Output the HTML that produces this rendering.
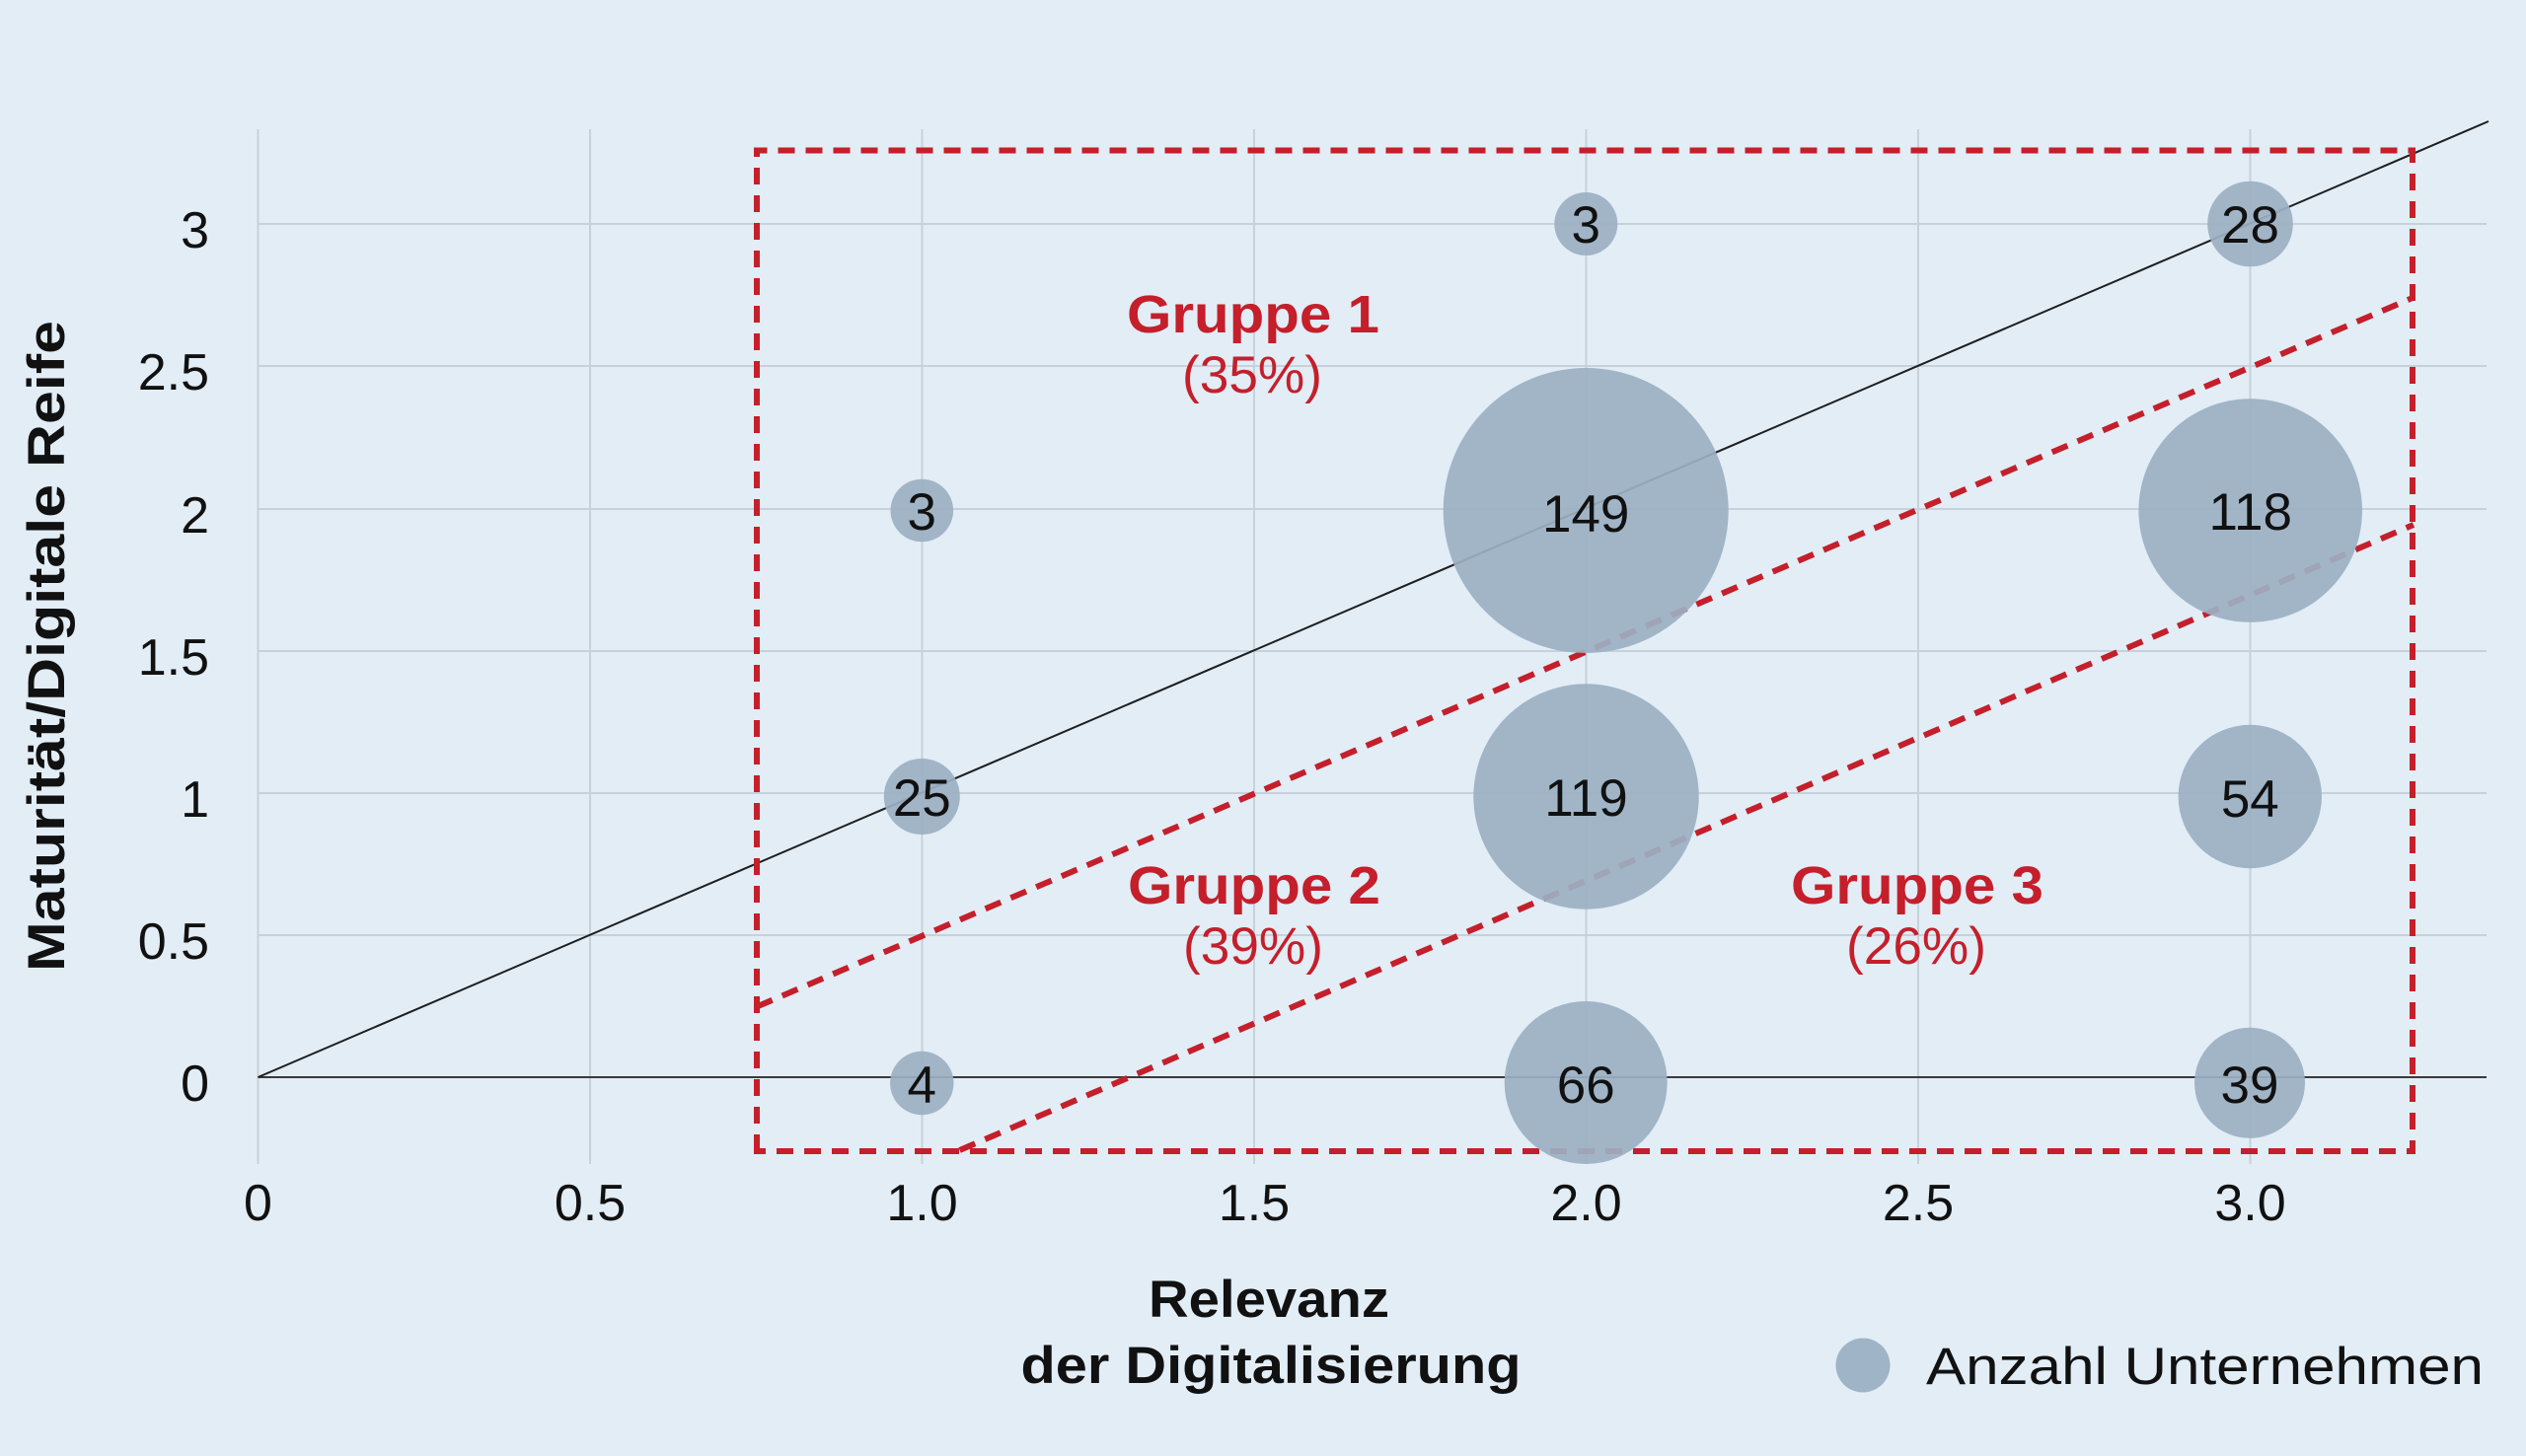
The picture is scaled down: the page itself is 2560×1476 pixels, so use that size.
<!DOCTYPE html>
<html>
<head>
<meta charset="utf-8">
<style>
  html, body { margin:0; padding:0; background:#e2edf6; }
  svg { display:block; }
  text { font-family: "Liberation Sans", "DejaVu Sans", sans-serif; }
</style>
</head>
<body>
<svg width="2560" height="1476" viewBox="0 0 2560 1476" xmlns="http://www.w3.org/2000/svg">
  <rect x="0" y="0" width="2560" height="1476" fill="#e2edf6"/>

  <!-- vertical gridlines -->
  <g stroke="#c6d1db" stroke-width="2">
    <line x1="261.5" y1="131" x2="261.5" y2="1180"/>
    <line x1="598" y1="131" x2="598" y2="1180"/>
    <line x1="934.5" y1="131" x2="934.5" y2="1180"/>
    <line x1="1271" y1="131" x2="1271" y2="1180"/>
    <line x1="1607.5" y1="131" x2="1607.5" y2="1180"/>
    <line x1="1944" y1="131" x2="1944" y2="1180"/>
    <line x1="2280.5" y1="131" x2="2280.5" y2="1180"/>
  </g>
  <!-- horizontal gridlines -->
  <g stroke="#c6d1db" stroke-width="2">
    <line x1="261.5" y1="227" x2="2520" y2="227"/>
    <line x1="261.5" y1="371" x2="2520" y2="371"/>
    <line x1="261.5" y1="516" x2="2520" y2="516"/>
    <line x1="261.5" y1="660" x2="2520" y2="660"/>
    <line x1="261.5" y1="804" x2="2520" y2="804"/>
    <line x1="261.5" y1="948" x2="2520" y2="948"/>
  </g>
  <!-- zero line -->
  <line x1="261.5" y1="1092" x2="2520" y2="1092" stroke="#3a3a3a" stroke-width="2"/>
  <!-- diagonal y=x -->
  <line x1="261.5" y1="1092" x2="2522" y2="123" stroke="#1e1e1e" stroke-width="2"/>

  <!-- red dashed shapes -->
  <g stroke="#c41f2b" stroke-width="6" fill="none" stroke-dasharray="17 11">
    <path d="M767 1167 L767 152.5 L2445 152.5 L2445 1167 Z"/>
    <line x1="767" y1="1020.5" x2="2445" y2="302"/>
    <line x1="972.6" y1="1166" x2="2446" y2="532"/>
  </g>

  <!-- bubbles -->
  <g fill="#9bb0c2" fill-opacity="0.92">
    <circle cx="1607.3" cy="227" r="32"/>
    <circle cx="2280.5" cy="227" r="43.3"/>
    <circle cx="934.3" cy="517.5" r="31.8"/>
    <circle cx="1607.2" cy="517.5" r="144.5"/>
    <circle cx="2280.7" cy="517.5" r="113.3"/>
    <circle cx="934.3" cy="807.5" r="38.5"/>
    <circle cx="1607.5" cy="807.5" r="114.2"/>
    <circle cx="2280.3" cy="807.5" r="72.7"/>
    <circle cx="934.3" cy="1098" r="32.2"/>
    <circle cx="1607.2" cy="1097.5" r="82.5"/>
    <circle cx="2280" cy="1097.8" r="56"/>
  </g>

  <!-- bubble labels -->
  <g font-size="53" fill="#111" text-anchor="middle">
    <text x="1607.3" y="246">3</text>
    <text x="2280.5" y="246">28</text>
    <text x="934.3" y="537">3</text>
    <text x="1607.2" y="539">149</text>
    <text x="2280.7" y="537">118</text>
    <text x="934.3" y="827">25</text>
    <text x="1607.5" y="827">119</text>
    <text x="2280.3" y="828">54</text>
    <text x="934.3" y="1118">4</text>
    <text x="1607.2" y="1118">66</text>
    <text x="2280" y="1118">39</text>
  </g>

  <!-- y tick labels -->
  <g font-size="52" fill="#111" text-anchor="end">
    <text x="212" y="251">3</text>
    <text x="212" y="395">2.5</text>
    <text x="212" y="540">2</text>
    <text x="212" y="684">1.5</text>
    <text x="212" y="828">1</text>
    <text x="212" y="972">0.5</text>
    <text x="212" y="1116">0</text>
  </g>

  <!-- x tick labels -->
  <g font-size="52" fill="#111" text-anchor="middle">
    <text x="261.5" y="1237">0</text>
    <text x="598" y="1237">0.5</text>
    <text x="934.5" y="1237">1.0</text>
    <text x="1271" y="1237">1.5</text>
    <text x="1607.5" y="1237">2.0</text>
    <text x="1944" y="1237">2.5</text>
    <text x="2280.5" y="1237">3.0</text>
  </g>

  <!-- group labels -->
  <g fill="#c41f2b" text-anchor="middle">
    <text x="1270" y="337" font-size="54" font-weight="bold" textLength="256" lengthAdjust="spacingAndGlyphs">Gruppe 1</text>
    <text x="1269" y="398" font-size="53" textLength="142" lengthAdjust="spacingAndGlyphs">(35%)</text>
    <text x="1271" y="916" font-size="54" font-weight="bold" textLength="256" lengthAdjust="spacingAndGlyphs">Gruppe 2</text>
    <text x="1270" y="977" font-size="53" textLength="142" lengthAdjust="spacingAndGlyphs">(39%)</text>
    <text x="1943" y="916" font-size="54" font-weight="bold" textLength="256" lengthAdjust="spacingAndGlyphs">Gruppe 3</text>
    <text x="1942" y="977" font-size="53" textLength="142" lengthAdjust="spacingAndGlyphs">(26%)</text>
  </g>

  <!-- axis titles -->
  <g fill="#111" font-weight="bold" text-anchor="middle" font-size="53">
    <text x="1286" y="1335" textLength="244" lengthAdjust="spacingAndGlyphs">Relevanz</text>
    <text x="1288" y="1402" textLength="507" lengthAdjust="spacingAndGlyphs">der Digitalisierung</text>
    <text transform="translate(65,655) rotate(-90)" x="0" y="0" textLength="660" lengthAdjust="spacingAndGlyphs">Maturität/Digitale Reife</text>
  </g>

  <!-- legend -->
  <circle cx="1888" cy="1384" r="27.5" fill="#9fb4c6"/>
  <text x="1952" y="1403" font-size="53" fill="#111" textLength="565" lengthAdjust="spacingAndGlyphs">Anzahl Unternehmen</text>
</svg>
</body>
</html>
